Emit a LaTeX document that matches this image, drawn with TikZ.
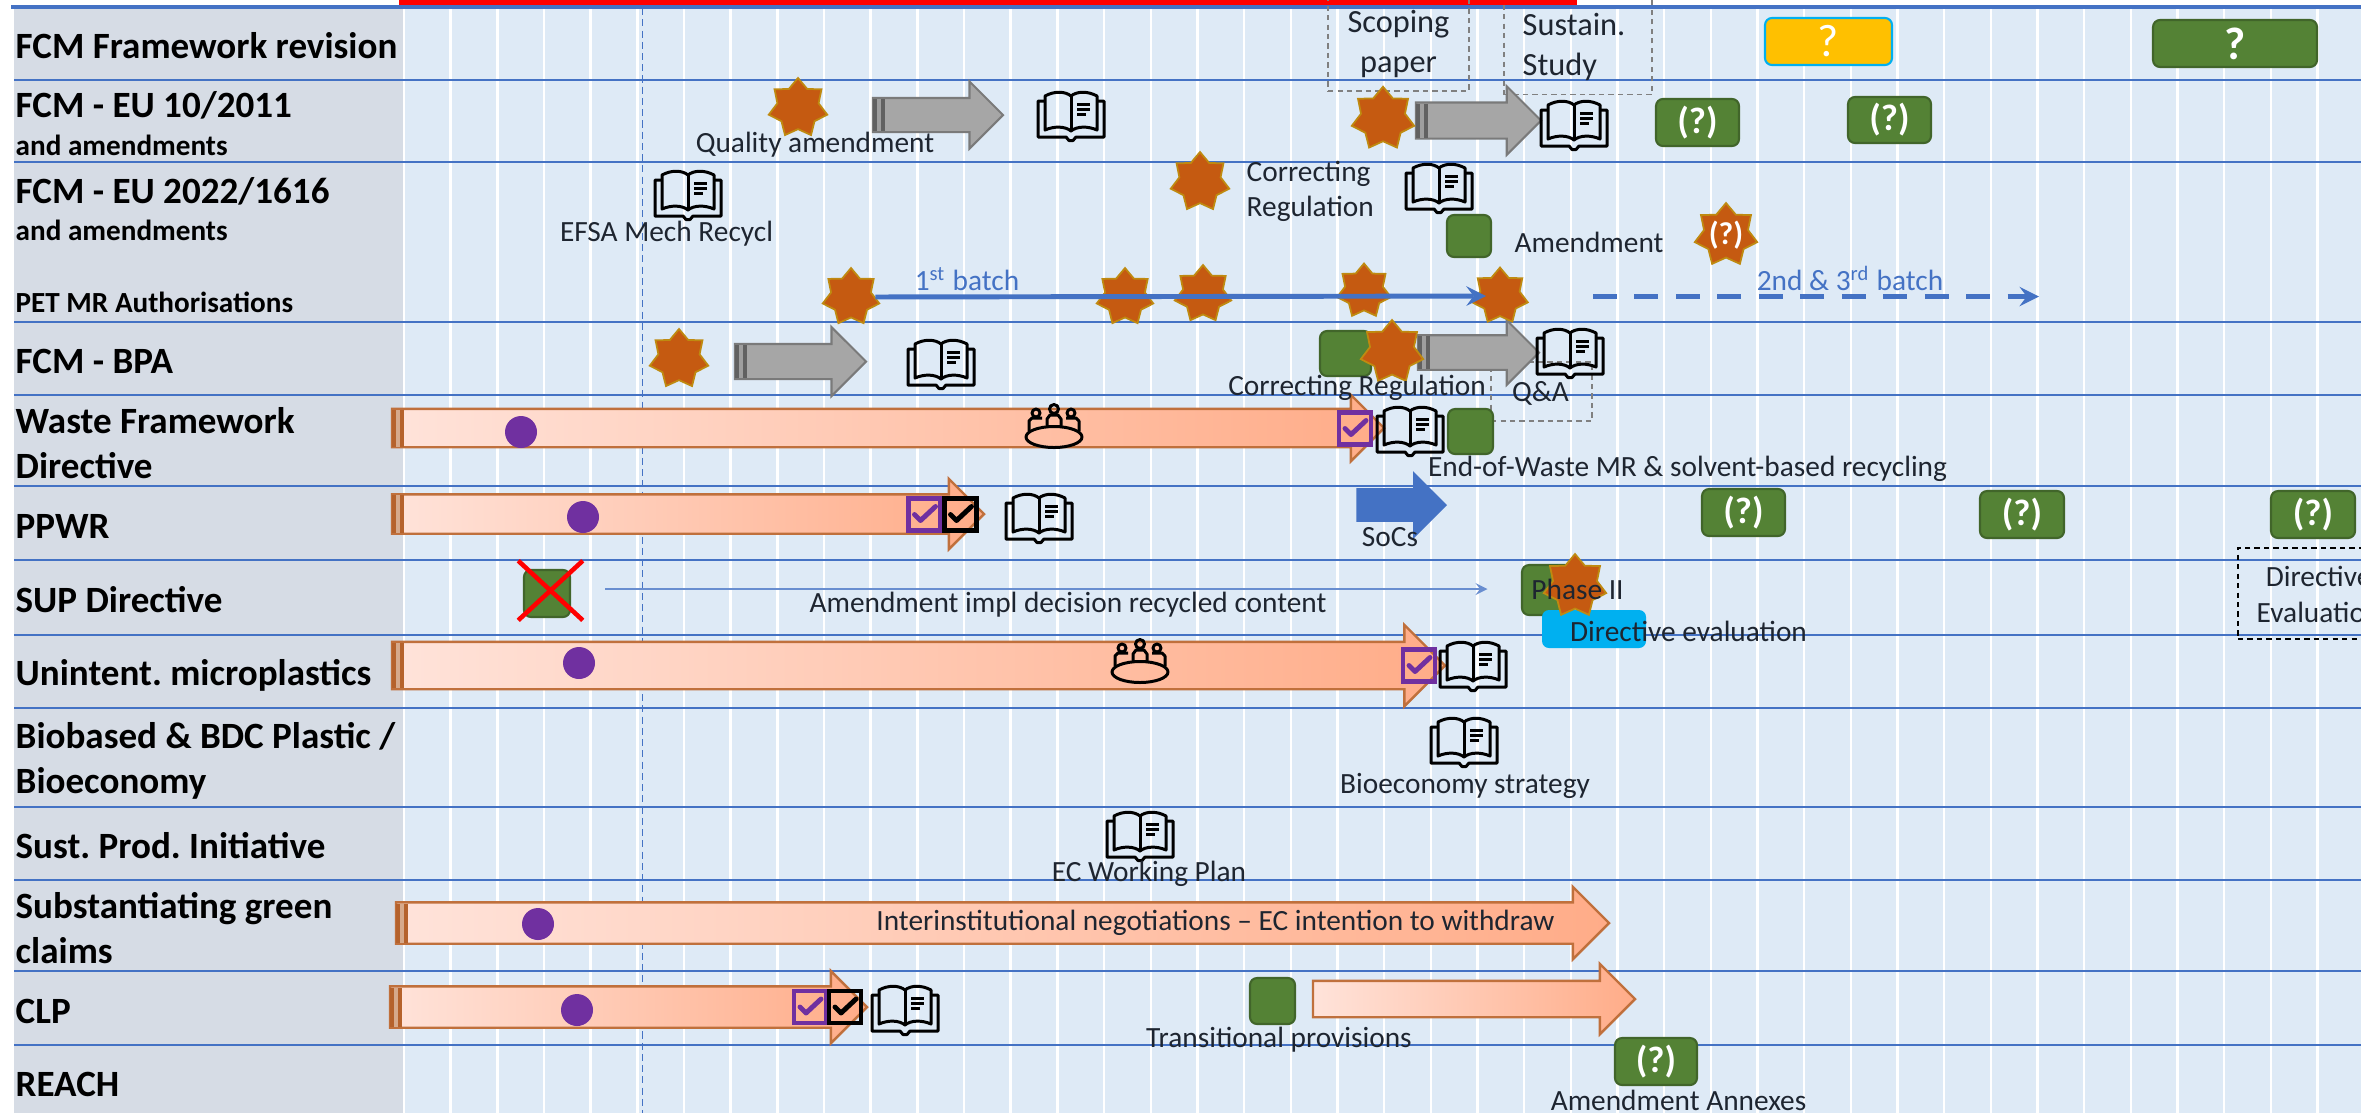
\documentclass[tikz,border=0pt]{standalone}
\usepackage{fontspec}
\setmainfont{Carlito}
\usetikzlibrary{arrows}
\usetikzlibrary{shapes.arrows}
\usetikzlibrary{shapes.geometric}
\usetikzlibrary{shapes.misc}

\definecolor{planblue}{HTML}{DEEAF6}
\definecolor{sidegrey}{HTML}{D6DCE5}
\definecolor{ruleblue}{HTML}{4472C4}
\definecolor{leafgreen}{HTML}{548235}
\definecolor{leafdark}{HTML}{41652A}
\definecolor{rust}{HTML}{C55A11}
\definecolor{rustedge}{HTML}{BF8A10}
\definecolor{boxpurple}{HTML}{7030A0}
\definecolor{barbrown}{HTML}{B5622C}
\definecolor{inkdark}{HTML}{1E2530}
\definecolor{pinklight}{HTML}{FFE3DA}
\definecolor{pinkdeep}{HTML}{FFAC88}
\definecolor{pinkedge}{HTML}{C0703C}
\definecolor{amber}{HTML}{FFC000}
\definecolor{skyblue}{HTML}{00B0F0}

\tikzset{
	rowlabel/.style = {anchor = west, inner sep = 0, align = left, font = \fontsize{10.55}{12.8}\selectfont\bfseries, text = black},
	rowsmall/.style = {anchor = west, inner sep = 0, font = \fontsize{8.3}{10}\selectfont\bfseries, text = black},
	txtlabel/.style = {inner sep = 0, font = \fontsize{8.35}{10}\selectfont, text = inkdark},
	batchlabel/.style = {inner sep = 0, font = \fontsize{8.35}{10}\selectfont, text = ruleblue},
	burst/.style = {star, star points = 7, star point ratio = 1.42, fill = rust, draw = rustedge, line width = 0.5pt, inner sep = 0, minimum size = #1cm},
	leafbox/.style n args = {2}{rectangle, rounded corners = 0.7mm, fill = leafgreen, draw = leafdark, line width = 0.6pt, inner sep = 0, minimum width = #1cm, minimum height = #2cm},
	qmark/.style = {inner sep = 0, font = \fontsize{10.5}{12}\selectfont\bfseries, text = white},
	pinkarrow/.style n args = {3}{single arrow, draw = pinkedge, line width = 0.7pt, left color = pinklight, right color = pinkdeep, inner xsep = 0, inner ysep = #2cm/2, outer sep = 0, anchor = tail, minimum height = #1cm, single arrow head extend = #3cm},
	greyarrow/.style n args = {3}{single arrow, draw = black!52, line width = 0.6pt, fill = black!35, inner xsep = 0, inner ysep = #2cm/2, outer sep = 0, anchor = tail, minimum height = #1cm, single arrow head extend = #3cm},
	endbar/.style 2 args = {rectangle, inner sep = 0, outer sep = 0, anchor = west, minimum width = 0.12cm, fill = #1, path picture = {\fill [#2] ([xshift = -0.2mm]path picture bounding box.south) rectangle ([xshift = 0.2mm]path picture bounding box.north);}},
	pinkbar/.style = {endbar = {barbrown}{barbrown!55!white}},
	greybar/.style = {endbar = {black!62}{black!38}},
	stage/.style = {circle, fill = boxpurple, inner sep = 0, minimum size = 0.32cm},
	tickbox/.style = {rectangle, draw = #1, fill = none, line width = 1.4pt, inner sep = 0, minimum size = 0.32cm},
	dashbox/.style = {rectangle, draw = #1, dash pattern = on 1.5pt off 1.2pt, line width = 0.45pt, inner sep = 0},
	bookline/.style = {draw = black, line width = 0.85pt, line join = round},
	bookicon/.pic = {
		\draw [bookline] (-0.26, 0.14) -- (-0.26, -0.2) .. controls (-0.17, -0.25) and (-0.06, -0.25) .. (0, -0.2) .. controls (0.06, -0.25) and (0.17, -0.25) .. (0.26, -0.2) -- (0.26, 0.14) .. controls (0.17, 0.1) and (0.06, 0.1) .. (0, 0.15) .. controls (-0.06, 0.1) and (-0.17, 0.1) .. cycle;
		\draw [bookline] (0, -0.2) -- (0, 0.15);
		\draw [bookline] (-0.26, -0.15) -- (-0.33, -0.15) -- (-0.33, 0.21) -- (-0.05, 0.21) -- (-0.02, 0.245) -- (0.02, 0.245) -- (0.05, 0.21) -- (0.33, 0.21) -- (0.33, -0.15) -- (0.26, -0.15);
		\draw [bookline] (0.06, -0.12) -- (0.19, -0.12);
		\draw [bookline] (0.06, -0.07) -- (0.19, -0.07);
		\draw [bookline] (0.06, -0.02) -- (0.15, -0.02);
	},
	tableicon/.pic = {
		\draw [bookline] (0, 0.09) ellipse (0.28 and 0.105);
		\draw [bookline] (-0.18, -0.15) circle (0.04);
		\draw [bookline] (0, -0.19) circle (0.045);
		\draw [bookline] (0.17, -0.15) circle (0.04);
		\draw [bookline] (-0.25, 0.03) -- (-0.25, -0.07) -- (-0.22, -0.1) -- (-0.12, -0.1);
		\draw [bookline] (-0.07, -0.01) -- (-0.07, -0.09) -- (-0.04, -0.13) -- (0.04, -0.13) -- (0.07, -0.09) -- (0.07, -0.01);
		\draw [bookline] (0.25, 0.03) -- (0.25, -0.07) -- (0.22, -0.1) -- (0.12, -0.1);
	},
	ticksign/.pic = {
		\draw [line width = 1.4pt, line cap = round, line join = round] (-0.1, 0) -- (-0.04, 0.06) -- (0.11, -0.08);
	},
}

\begin{document}
\frenchspacing
\begin{tikzpicture}[x = 1cm, y = -1cm]
	\useasboundingbox (0, 0) rectangle (23.61, 11.13);
	\clip (0, 0) rectangle (23.61, 11.13);

	% plan background
	\fill [sidegrey] (0.14, 0.08) rectangle (4.03, 11.13);
	\fill [planblue] (4.03, 0.08) rectangle (23.61, 11.13);
	\foreach \k in {0, ..., 42} {
		\draw [white, line width = 0.7pt] ({4.04 + 0.4667*\k}, 0.08) -- ({4.04 + 0.4667*\k}, 11.13);
	}
	\draw [ruleblue, line width = 0.4pt, dash pattern = on 2pt off 1.2pt] (6.425, 0.08) -- (6.425, 11.13);
	\foreach \y in {0.8, 1.62, 3.22, 3.95, 4.86, 5.6, 6.35, 7.08, 8.07, 8.8, 9.71, 10.45} {
		\draw [ruleblue, line width = 0.55pt] (0.14, \y) -- (23.61, \y);
	}
	\draw [ruleblue, line width = 1pt] (0.11, 0.07) -- (23.61, 0.07);
	\fill [red] (3.99, 0) rectangle (15.77, 0.045);

	% row titles
	\node (fw) [rowlabel] at (0.15, 0.46) {FCM Framework revision};
	\node (eu10) [rowlabel] at (0.15, 1.057) {FCM - EU 10/2011};
	\node (eu10s) [rowsmall] at (0.15, 1.45) {and amendments};
	\node (eu22) [rowlabel] at (0.15, 1.91) {FCM - EU 2022/1616};
	\node (eu22s) [rowsmall] at (0.15, 2.3) {and amendments};
	\node (pet) [rowsmall] at (0.15, 3.02) {PET MR Authorisations};
	\node (bpa) [rowlabel] at (0.15, 3.61) {FCM - BPA};
	\node (wfd) [rowlabel] at (0.15, 4.435) {Waste Framework\\Directive};
	\node (ppwr) [rowlabel] at (0.15, 5.26) {PPWR};
	\node (sup) [rowlabel] at (0.15, 5.995) {SUP Directive};
	\node (micro) [rowlabel] at (0.15, 6.75) {Unintent. microplastics};
	\node (bio) [rowlabel] at (0.15, 7.605) {Biobased \& BDC Plastic /\\Bioeconomy};
	\node (spi) [rowlabel] at (0.15, 8.46) {Sust. Prod. Initiative};
	\node (claims) [rowlabel] at (0.15, 9.285) {Substantiating green\\claims};
	\node (clp) [rowlabel] at (0.15, 10.11) {CLP};
	\node (reach) [rowlabel] at (0.15, 10.845) {REACH};

	% dashed frames
	\node (scopebox) [dashbox = gray, minimum width = 1.41cm, minimum height = 1.2cm] at (13.985, 0.31) {};
	\node (sustbox) [dashbox = gray, minimum width = 1.48cm, minimum height = 1.2cm] at (15.78, 0.346) {};
	\node (qabox) [dashbox = gray, minimum width = 1.01cm, minimum height = 0.59cm] at (15.415, 3.915) {};
	\node (evalbox) [dashbox = black, minimum width = 1.6cm, minimum height = 0.91cm, anchor = west] at (22.37, 5.935) {};

	% long bars
	\node (wfdbar) [pinkarrow = {9.92}{0.36}{0.14}] at (3.92, 4.28) {};
	\node (wfdend) [pinkbar, minimum height = 0.37cm] at (wfdbar.tail) {};
	\node (ppwrbar) [pinkarrow = {5.92}{0.37}{0.155}] at (3.92, 5.14) {};
	\node (ppwrend) [pinkbar, minimum height = 0.38cm] at (ppwrbar.tail) {};
	\node (microbar) [pinkarrow = {10.53}{0.45}{0.17}] at (3.92, 6.655) {};
	\node (microend) [pinkbar, minimum height = 0.45cm] at (microbar.tail) {};
	\node (claimbar) [pinkarrow = {12.13}{0.39}{0.155}] at (3.96, 9.23) {};
	\node (claimend) [pinkbar, minimum height = 0.39cm] at (claimbar.tail) {};
	\node (clpbar) [pinkarrow = {4.77}{0.39}{0.155}] at (3.9, 10.07) {};
	\node (clpend) [pinkbar, minimum height = 0.39cm] at (clpbar.tail) {};
	\node (transbar) [pinkarrow = {3.22}{0.34}{0.17}] at (13.13, 9.99) {};

	% grey arrows
	\node (gra) [greyarrow = {1.3}{0.32}{0.165}] at (8.73, 1.15) {};
	\node (graend) [greybar, minimum height = 0.32cm] at (gra.tail) {};
	\node (grb) [greyarrow = {1.25}{0.34}{0.1625}] at (14.16, 1.205) {};
	\node (grbend) [greybar, minimum height = 0.34cm] at (grb.tail) {};
	\node (grc) [greyarrow = {1.31}{0.33}{0.17}] at (7.35, 3.615) {};
	\node (grcend) [greybar, minimum height = 0.33cm] at (grc.tail) {};
	\node (grd) [greyarrow = {1.21}{0.325}{0.15}] at (14.18, 3.525) {};
	\node (grdend) [greybar, minimum height = 0.325cm] at (grd.tail) {};
	\node (socs) [single arrow, fill = ruleblue, draw = ruleblue, inner xsep = 0, inner ysep = 0.155cm, outer sep = 0, anchor = tail, minimum height = 0.89cm, single arrow head extend = 0.16cm] at (13.57, 5.05) {};

	% green boxes
	\node (ga) [leafbox = {0.83}{0.47}] at (16.975, 1.225) {};
	\node (gb) [leafbox = {0.83}{0.46}] at (18.895, 1.2) {};
	\node (gc) [leafbox = {0.44}{0.42}] at (14.69, 2.36) {};
	\node (gd) [leafbox = {0.51}{0.45}] at (13.455, 3.535) {};
	\node (ge) [leafbox = {0.45}{0.45}] at (14.705, 4.315) {};
	\node (gf) [leafbox = {0.83}{0.47}] at (17.435, 5.125) {};
	\node (gg) [leafbox = {0.84}{0.47}] at (20.22, 5.145) {};
	\node (gh) [leafbox = {0.84}{0.47}] at (23.13, 5.145) {};
	\node (gi) [leafbox = {1.64}{0.47}] at (22.35, 0.435) {};
	\node (gj) [leafbox = {0.46}{0.47}] at (5.47, 5.935) {};
	\node (gk) [leafbox = {0.5}{0.5}] at (15.47, 5.9) {};
	\node (gl) [leafbox = {0.45}{0.46}] at (12.725, 10.01) {};
	\node (gm) [leafbox = {0.82}{0.47}] at (16.56, 10.615) {};
	\node (yel) [rectangle, rounded corners = 0.7mm, fill = amber, draw = skyblue, line width = 0.6pt, inner sep = 0, minimum width = 1.27cm, minimum height = 0.47cm] at (18.285, 0.415) {};
	\node (dirbox) [rectangle, rounded corners = 0.7mm, fill = skyblue, inner sep = 0, minimum width = 1.04cm, minimum height = 0.38cm] at (15.94, 6.29) {};
	\node (supx) [cross out, draw = red, line width = 1.3pt, inner sep = 0, minimum width = 0.6cm, minimum height = 0.55cm] at (5.505, 5.905) {};

	\node (qa) [qmark] at (16.975, 1.225) {(?)};
	\node (qb) [qmark] at (18.895, 1.2) {(?)};
	\node (qf) [qmark] at (17.435, 5.125) {(?)};
	\node (qg) [qmark] at (20.22, 5.145) {(?)};
	\node (qh) [qmark] at (23.13, 5.145) {(?)};
	\node (qi) [qmark, font = \fontsize{13}{15}\selectfont\bfseries] at (22.35, 0.435) {?};
	\node (qm) [qmark] at (16.56, 10.615) {(?)};
	\node (qy) [qmark, font = \fontsize{13}{15}\selectfont] at (18.285, 0.415) {?};

	% stars
	\node (sa) [burst = 0.6] at (7.98, 1.08) {};
	\node (sb) [burst = 0.64] at (13.83, 1.187) {};
	\node (sc) [burst = 0.6] at (12.0, 1.82) {};
	\node (sd) [burst = 0.64] at (17.26, 2.35) {};
	\node (se) [burst = 0.58] at (8.51, 2.97) {};
	\node (sf) [burst = 0.58] at (11.25, 2.97) {};
	\node (sg) [burst = 0.58] at (12.03, 2.94) {};
	\node (sh) [burst = 0.55] at (13.64, 2.91) {};
	\node (si) [burst = 0.57] at (15.0, 2.96) {};
	\node (sj) [burst = 0.6] at (6.79, 3.59) {};
	\node (sk) [burst = 0.64] at (13.92, 3.52) {};
	\node (sl) [burst = 0.64] at (15.75, 5.86) {};
	\node (qd) [qmark, font = \fontsize{9}{11}\selectfont\bfseries] at (17.26, 2.35) {(?)};

	% batch arrows
	\coordinate (dashstart) at (15.93, 2.965);
	\coordinate (dashend) at (20.39, 2.965);
	\coordinate (supstart) at (6.05, 5.89);
	\coordinate (supend) at (14.875, 5.89);
	\draw [->, >=stealth, ruleblue, line width = 1.4pt, shorten > = -1mm] (se) -- (si);
	\draw [->, >=stealth, ruleblue, line width = 1.4pt, dash pattern = on 6.8pt off 5pt] (dashstart) -- (dashend);
	\draw [->, >=stealth, ruleblue!80!white, line width = 0.5pt] (supstart) -- (supend);

	% stage marks
	\node (da) [stage] at (5.21, 4.32) {};
	\node (db) [stage] at (5.83, 5.17) {};
	\node (dc) [stage] at (5.79, 6.63) {};
	\node (dd) [stage] at (5.38, 9.24) {};
	\node (de) [stage] at (5.77, 10.1) {};

	\node (ta) [tickbox = boxpurple] at (13.55, 4.285) {};
	\node (tb) [tickbox = boxpurple] at (9.245, 5.145) {};
	\node (tc) [tickbox = black] at (9.605, 5.145) {};
	\node (td) [tickbox = boxpurple] at (14.19, 6.655) {};
	\node (te) [tickbox = boxpurple] at (8.1, 10.07) {};
	\node (tf) [tickbox = black] at (8.45, 10.07) {};
	\pic [color = boxpurple] at (ta) {ticksign};
	\pic [color = boxpurple] at (tb) {ticksign};
	\pic [color = black] at (tc) {ticksign};
	\pic [color = boxpurple] at (td) {ticksign};
	\pic [color = boxpurple] at (te) {ticksign};
	\pic [color = black] at (tf) {ticksign};

	% books
	\pic (ka) at (10.71, 1.16) {bookicon};
	\pic (kb) at (15.74, 1.25) {bookicon};
	\pic (kc) at (6.88, 1.95) {bookicon};
	\pic (kd) at (14.39, 1.88) {bookicon};
	\pic (ke) at (9.41, 3.64) {bookicon};
	\pic (kf) at (15.7, 3.53) {bookicon};
	\pic (kg) at (14.1, 4.31) {bookicon};
	\pic (kh) at (10.39, 5.18) {bookicon};
	\pic (ki) at (14.73, 6.66) {bookicon};
	\pic (kj) at (14.64, 7.42) {bookicon};
	\pic (kk) at (11.4, 8.36) {bookicon};
	\pic (kl) at (9.05, 10.1) {bookicon};

	\pic (ma) at (10.54, 4.28) {tableicon};
	\pic (mb) at (11.4, 6.63) {tableicon};

	% labels
	\begin{scope}[every node/.style = {txtlabel}]
		\node (la) at (8.15, 1.45) {Quality amendment};
		\node (lb) at (6.665, 2.34) {EFSA Mech Recycl};
		\node (lc) [anchor = west, align = left] at (12.46, 1.915) {Correcting\\Regulation};
		\node (ld) at (15.89, 2.42) {Amendment};
		\node (le) at (13.57, 3.875) {Correcting Regulation};
		\node (lf) at (15.405, 3.93) {Q\&A};
		\node (lg) at (16.875, 4.686) {End-of-Waste MR \& solvent-based recycling};
		\node (lh) at (13.9, 5.37) {SoCs};
		\node (li) at (10.68, 6.05) {Amendment impl decision recycled content};
		\node (lj) at (15.775, 5.89) {Phase II};
		\node (lk) at (16.885, 6.31) {Directive evaluation};
		\node (ll) at (14.65, 7.86) {Bioeconomy strategy};
		\node (lm) at (11.49, 8.735) {EC Working Plan};
		\node (ln) at (12.155, 9.23) {Interinstitutional negotiations – EC intention to withdraw};
		\node (lo) at (12.79, 10.4) {Transitional provisions};
		\node (lp) at (16.785, 11.0) {Amendment Annexes};
		\node (lq) [align = center, font = \fontsize{9.2}{11.4}\selectfont] at (13.985, 0.44) {Scoping\\paper};
		\node (lr) [anchor = west, align = left, font = \fontsize{9.2}{11.6}\selectfont] at (15.22, 0.47) {Sustain.\\Study};
		\node (ls) [anchor = west, align = center] at (22.56, 5.945) {Directive\\Evaluation};
	\end{scope}

	\node (ba) [batchlabel] at (9.67, 2.79) {1\textsuperscript{st} batch};
	\node (bb) [batchlabel] at (18.5, 2.78) {2nd \& 3\textsuperscript{rd} batch};
\end{tikzpicture}
\end{document}
